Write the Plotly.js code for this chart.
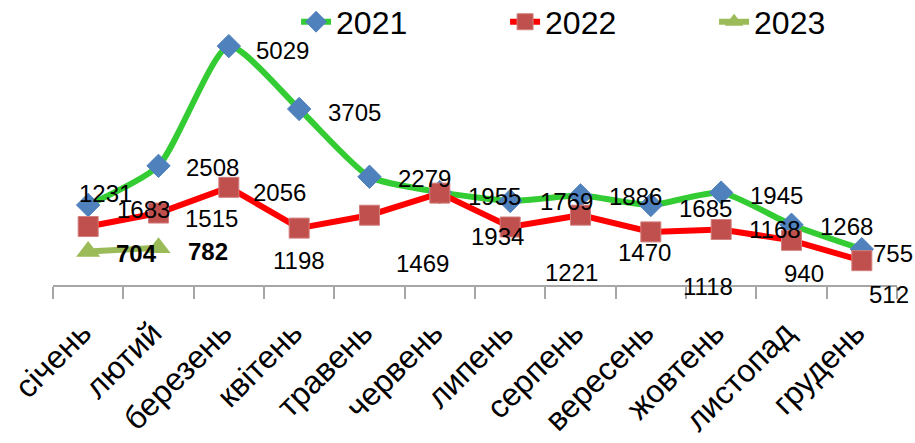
<!DOCTYPE html>
<html>
<head>
<meta charset="utf-8">
<script src="https://cdn.plot.ly/plotly-3.0.1.min.js"></script>
<style>html,body{margin:0;padding:0;background:#fff;}#chart{width:915px;height:443px;}</style>
</head>
<body>
<div id="chart"></div>
<script>
const months = ["січень","лютий","березень","квітень","травень","червень","липень","серпень","вересень","жовтень","листопад","грудень"];
const v2021 = [1683, 2508, 5029, 3705, 2279, 1955, 1769, 1886, 1685, 1945, 1268, 755];
const v2022 = [1231, 1515, 2056, 1198, 1469, 1934, 1221, 1470, 1118, 1168, 940, 512];
const months2023 = ["січень","лютий"];
const v2023 = [704, 782];

// label offsets (px) relative to each point: [dx, dy] (dy positive = downward)
const off2021 = [[55,4],[54,2],[54,4],[55,3],[55,2],[55,4],[56,1],[55,1],[55,4],[55,3],[55,2],[31,4]];
const off2022 = [[17,-33],[53,5],[51,5],[0,32],[53,48],[58,43],[61,45],[64,37],[57,55],[54,0],[12,33],[27,34]];
const off2023 = [[48,2],[49,4]];

const FONT = "Liberation Sans, Arial, sans-serif";

const traces = [
  {name:"2021", x:months, y:v2021, type:"scatter", mode:"lines+markers",
   line:{color:"#33CC33", width:6, shape:"spline", smoothing:0.6},
   marker:{symbol:"diamond", size:18, color:"#4F81BD", line:{color:"#4F81BD", width:1}}, hoverinfo:"skip"},
  {name:"2022", x:months, y:v2022, type:"scatter", mode:"lines+markers",
   line:{color:"#FF0000", width:6},
   marker:{symbol:"square", size:20, color:"#C0504D", line:{color:"#D27F7D", width:1}}, hoverinfo:"skip"},
  {name:"2023", x:months2023, y:v2023, type:"scatter", mode:"lines+markers",
   line:{color:"#9BBB59", width:6},
   marker:{symbol:"triangle-up", size:21, color:"#9BBB59"}, hoverinfo:"skip"}
];

const annotations = [];
function addLabels(xs, ys, offs, bold){
  xs.forEach((m,i)=>{
    annotations.push({x:m, y:ys[i], xref:"x", yref:"y", text: bold ? "<b>"+ys[i]+"</b>" : String(ys[i]),
      showarrow:false, xanchor:"center", yanchor:"middle", xshift:offs[i][0], yshift:-offs[i][1],
      font:{family:FONT, size:24, color:"#000"}});
  });
}
addLabels(months, v2021, off2021, false);
addLabels(months, v2022, off2022, false);
addLabels(months2023, v2023, off2023, true);

const layout = {
  width:915, height:443,
  margin:{l:53, r:18, t:0, b:158, pad:0, autoexpand:false},
  paper_bgcolor:"#fff", plot_bgcolor:"#fff",
  showlegend:true,
  legend:{orientation:"h", x:0.288, xanchor:"left", y:0.923, yanchor:"middle",
    font:{family:FONT, size:32, color:"#000"}, bgcolor:"rgba(0,0,0,0)", entrywidth:164, itemwidth:30},
  xaxis:{type:"category", categoryarray:months, range:[-0.5, 11.5],
    tickmode:"array", tickvals:months, ticktext:months.map(m => m + "\u00a0"),
    showline:true, linecolor:"#A6A6A6", linewidth:2,
    ticks:"outside", tickson:"boundaries", ticklen:12, tickcolor:"#A6A6A6", tickwidth:2,
    tickangle:-45, ticklabelstandoff:8, tickfont:{family:FONT, size:32, color:"#000"},
    showgrid:false, zeroline:false, automargin:false, fixedrange:true},
  yaxis:{range:[0, 6000], visible:false, showgrid:false, zeroline:false, fixedrange:true},
  annotations:annotations
};

Plotly.newPlot("chart", traces, layout, {displayModeBar:false, staticPlot:true});
</script>
</body>
</html>
